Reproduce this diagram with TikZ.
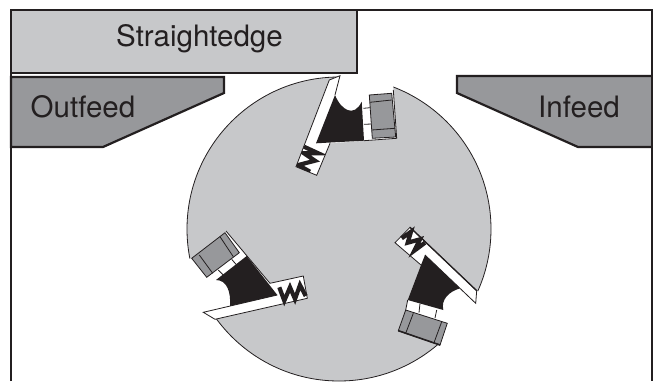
\documentclass[tikz,border=0pt]{standalone}
\usepackage{fontspec}
\setmainfont{TeX Gyre Heros}
\definecolor{lightg}{HTML}{C7C8CA}
\definecolor{midg}{HTML}{97989B}
\definecolor{ink}{HTML}{231F20}
\tikzset{
  edge/.style={draw=ink,line width=0.8pt,line join=miter},
  heavy/.style={draw=ink,line width=2.2pt,line join=miter},
  knife/.style={edge,fill=midg},
  spring/.style={draw=ink,line width=4.2pt,line join=miter},
  label/.style={text=ink,font=\fontsize{29.5}{32}\selectfont,inner sep=0pt,anchor=base},
}
\begin{document}
\begin{tikzpicture}[x=1pt,y=-1pt]
  \useasboundingbox (0,0) rectangle (656,381);
  \fill[white] (0,0) rectangle (656,381);
  \begin{scope}
    \clip (0,0) rectangle (656,381);
    \draw[edge,fill=lightg] (339,229) circle[radius=152];
    % top tooth
    \fill[white] (329.3,80) -- (340,75.7) -- (345,60) -- (393,60) -- (393.3,90) -- (396.7,138.3) -- (364,140.7) -- (330,143.3) -- (316.7,175.3) -- (296,166.7) -- cycle;
    \fill[ink] (335,95) .. controls (341,110) and (354,118) .. (361.7,101.7) -- (364,140.7) -- (316,143.3) -- cycle;
    \draw[edge] (329.3,80) -- (296,166.7) -- (316.7,175.3) -- (330,143.3);
    \draw[edge] (329.3,80) -- (340,75.7) -- (335,95);
    \draw[edge] (393.3,90) -- (396.7,138.3) -- (364,140.7);
    \draw[edge] (363.3,108.3) -- (370,107.7) (364,124.3) -- (371.7,124);
    \draw[knife] (369.3,95) -- (391.7,93.3) -- (395.7,137) -- (372.3,138.3) -- cycle;
    \draw[edge] (370,102.3) -- (391.7,100) (371.7,130) -- (395,128.3);
    \begin{scope}
      \clip (329.3,80) -- (296,166.7) -- (316.7,175.3) -- (330,143.3) -- cycle;
      \draw[spring] (304,146.7) -- (318.3,153.3) -- (304,153.3) -- (315,160.7) -- (298.3,165) -- (310,171.7);
    \end{scope}
    % right tooth
    \fill[white] (410,227.3) -- (476.7,290.7) -- (495,300) -- (470,355) -- (440,345) -- (398.3,330.7) -- (405.7,310) -- (407.7,300) -- (421,265) -- (395,242.7) -- cycle;
    \fill[ink] (425,255) -- (460,288.3) .. controls (448,292) and (441,300) .. (443.3,310) -- (407.7,300) -- (421,265) -- cycle;
    \draw[edge] (421,265) -- (395,242.7) -- (410,227.3) -- (476.7,290.7) -- (475.7,303.3) -- (425,255);
    \draw[draw=ink,line width=1.3pt] (410,227.3) -- (476.7,290.7);
    \draw[edge] (407.7,300) -- (405.7,310);
    \draw[edge] (420,303.3) -- (419,312.7) (436.7,310) -- (435,318);
    \draw[knife] (405.7,310) -- (447.3,323.3) -- (440,345) -- (398.3,330.7) -- cycle;
    \draw[draw=ink,line width=1.6pt] (398.3,330.7) -- (440,345);
    \draw[edge] (413.3,313.3) -- (405.7,333.3) (441.7,321.7) -- (434,342.7);
    \draw[spring] (401.7,238.3) -- (411,231.7) -- (407.7,242.7) -- (420,239.3) -- (414.3,250.7) -- (425,242.7);
    % left tooth
    \fill[white] (191.7,258.3) -- (225,232.7) -- (226,231) -- (246.7,256) -- (270,283.3) -- (303.3,276) -- (307.3,298.3) -- (215,319.3) -- (190,330) -- (165,262) -- cycle;
    \fill[ink] (246.7,256) -- (277.3,295) -- (230,306) .. controls (231,292) and (227,280) .. (216,280) -- cycle;
    \draw[edge] (226,231) -- (270,283.3) -- (303.3,276) -- (307.3,298.3) -- (215,319.3) -- (203.3,312.3) -- (277.3,295);
    \draw[edge] (218.3,270) -- (223.3,275) (231.7,259.3) -- (236,264.3);
    \draw[knife] (191.7,258.3) -- (225,232.7) -- (239.3,252.7) -- (206.7,277.3) -- cycle;
    \draw[edge] (199.3,255) -- (212.7,273.3) (220,236.7) -- (233.3,256.7);
    \draw[spring] (279.3,287.3) -- (284.3,300.7) -- (290,287.3) -- (295,299) -- (300,285) -- (305.7,296);
  \end{scope}
  \draw[heavy,fill=midg] (11,77) -- (224,77) -- (224,93) -- (103,147) -- (11,147) -- cycle;
  \draw[heavy,fill=midg] (652,76) -- (457,76) -- (457,93) -- (578,147) -- (652,147);
  \draw[heavy] (11,381) -- (11,10) -- (652,10) -- (652,381);
  \draw[heavy,fill=lightg] (11,10) rectangle (357,73);
  \node[label] (straight) at (199.5,46) {Straightedge};
  \node[label] (outfeed) at (83,117.5) {Outfeed};
  \node[label] (infeed) at (579,117.5) {Infeed};
\end{tikzpicture}
\end{document}
